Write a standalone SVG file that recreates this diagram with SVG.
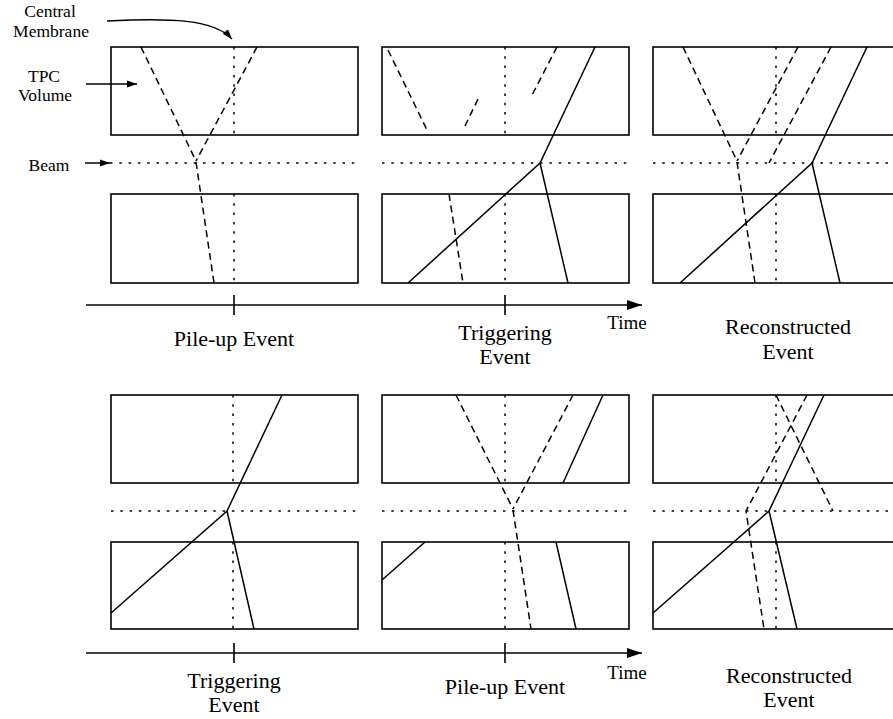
<svg xmlns="http://www.w3.org/2000/svg" width="893" height="719" viewBox="0 0 893 719">
<style>
  .box{fill:none;stroke:#000;stroke-width:1.6}
  .dot{fill:none;stroke:#000;stroke-width:1.5;stroke-dasharray:2.5 6.8}
  .dash{fill:none;stroke:#000;stroke-width:1.5;stroke-dasharray:7 4.5}
  .solid{fill:none;stroke:#000;stroke-width:1.5}
  .axis{fill:none;stroke:#000;stroke-width:1.6}
  .lbl{font-size:22px}
  .sm{font-size:17.5px}
  .time{font-size:19px}
</style>
<defs>
  <marker id="ah" markerUnits="userSpaceOnUse" markerWidth="11" markerHeight="8" refX="10" refY="4" orient="auto">
    <path d="M0,0.5 L10,4 L0,7.5 z" fill="#000"/>
  </marker>
  <marker id="ahBig" markerUnits="userSpaceOnUse" markerWidth="16" markerHeight="11" refX="15" refY="5.5" orient="auto">
    <path d="M0,0.5 L15,5.5 L0,10.5 z" fill="#000"/>
  </marker>
</defs>

<g id="annotations" font-family="Times New Roman, Liberation Serif, serif" text-anchor="middle" fill="#000">
  <text class="sm" x="50" y="17">Central</text>
  <text class="sm" x="51" y="37">Membrane</text>
  <text class="sm" x="44" y="82">TPC</text>
  <text class="sm" x="45" y="101">Volume</text>
  <text class="sm" x="49" y="171">Beam</text>
</g>

<g id="connectors">
  <path class="solid" d="M107,21 C170,18 214,19 232,39" marker-end="url(#ah)"/>
  <path class="solid" d="M86,84 L137,84" marker-end="url(#ah)"/>
  <path class="solid" d="M85,163 L110,163" marker-end="url(#ah)"/>
</g>

<g id="panel-pileup-top">
  <rect class="box" x="111" y="47" width="247" height="88"/>
  <rect class="box" x="111" y="194" width="247" height="89"/>
  <path class="dot" d="M234,47 L234,135 M234,194 L234,283"/>
  <path class="dot" d="M110,163 L358,163"/>
  <path class="dash" d="M141,47 L196,161 M257,47 L196,161 M196,162 L214,283"/>
</g>

<g id="panel-trigger-top">
  <rect class="box" x="382" y="47" width="247" height="88"/>
  <rect class="box" x="382" y="194" width="247" height="89"/>
  <path class="dot" d="M505,47 L505,135 M505,194 L505,283"/>
  <path class="dot" d="M382,163 L629,163"/>
  <path class="dash" d="M388,50 L427,130 M478,99 L463,130 M557,47 L532,95 M449,194 L463,283"/>
  <path class="solid" d="M595,47 L540,163 L408,283 M540,163 L568,283"/>
</g>

<g id="panel-reco-top">
  <rect class="box" x="653" y="47" width="260" height="88"/>
  <rect class="box" x="653" y="194" width="260" height="89"/>
  <path class="dot" d="M776,47 L776,135 M776,194 L776,283"/>
  <path class="dot" d="M653,163 L893,163"/>
  <path class="dash" d="M683,47 L737,161 M798,47 L737,161 M737,162 L755,283 M831,47 L769,163"/>
  <path class="solid" d="M867,47 L812,163 L680,283 M812,163 L840,283"/>
</g>

<g id="axis-top" font-family="Times New Roman, Liberation Serif, serif" text-anchor="middle" fill="#000">
  <path class="axis" d="M86,305 L642,305" marker-end="url(#ahBig)"/>
  <path class="axis" d="M234,295 L234,315 M505,295 L505,315"/>
  <text class="lbl" x="234" y="346">Pile-up Event</text>
  <text class="lbl" x="505" y="340">Triggering</text>
  <text class="lbl" x="505" y="364">Event</text>
  <text class="time" x="627" y="329">Time</text>
  <text class="lbl" x="788" y="334">Reconstructed</text>
  <text class="lbl" x="788" y="359">Event</text>
</g>

<g id="panel-trigger-bottom">
  <rect class="box" x="111" y="395" width="247" height="88"/>
  <rect class="box" x="111" y="542" width="247" height="87"/>
  <path class="dot" d="M233,395 L233,483 M233,542 L233,629"/>
  <path class="dot" d="M111,511 L358,511"/>
  <path class="solid" d="M282,395 L227,511 L111,613 M227,511 L254,629"/>
</g>

<g id="panel-pileup-bottom">
  <rect class="box" x="382" y="395" width="247" height="88"/>
  <rect class="box" x="382" y="542" width="247" height="87"/>
  <path class="dot" d="M505,395 L505,483 M505,542 L505,629"/>
  <path class="dot" d="M382,511 L629,511"/>
  <path class="dash" d="M456,395 L513,509 M573,395 L513,509 M513,510 L531,629"/>
  <path class="solid" d="M603,395 L563,483 M382,580 L425,542 M556,542 L576,629"/>
</g>

<g id="panel-reco-bottom">
  <rect class="box" x="653" y="395" width="260" height="88"/>
  <rect class="box" x="653" y="542" width="260" height="87"/>
  <path class="dot" d="M776,395 L776,483 M776,542 L776,629"/>
  <path class="dot" d="M653,511 L893,511"/>
  <path class="dash" d="M776,395 L833,511 M807,395 L746,511 L764,629"/>
  <path class="solid" d="M824,395 L769,511 L653,613 M769,511 L797,629"/>
</g>

<g id="axis-bottom" font-family="Times New Roman, Liberation Serif, serif" text-anchor="middle" fill="#000">
  <path class="axis" d="M86,653 L642,653" marker-end="url(#ahBig)"/>
  <path class="axis" d="M234,643 L234,663 M505,643 L505,663"/>
  <text class="lbl" x="234" y="688">Triggering</text>
  <text class="lbl" x="234" y="712">Event</text>
  <text class="lbl" x="505" y="694">Pile-up Event</text>
  <text class="time" x="627" y="679">Time</text>
  <text class="lbl" x="789" y="683">Reconstructed</text>
  <text class="lbl" x="789" y="707">Event</text>
</g>
</svg>
